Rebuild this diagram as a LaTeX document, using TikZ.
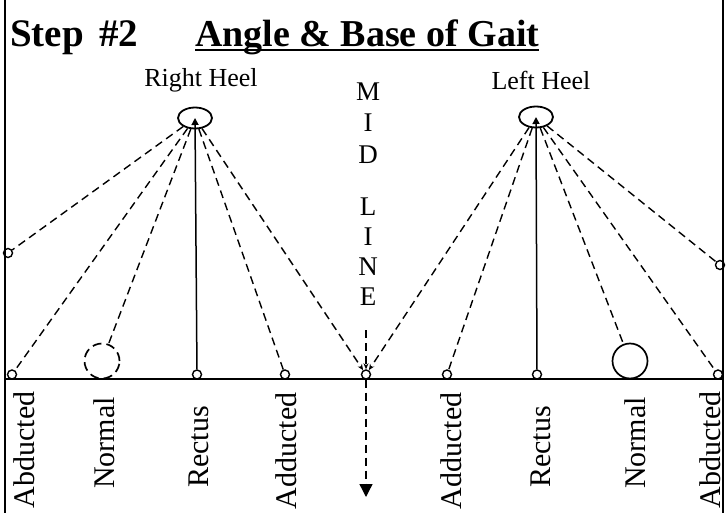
\documentclass[tikz,border=0pt]{standalone}
\usepackage{fontspec}
\setmainfont{Liberation Serif}
\usetikzlibrary{shapes.geometric,arrows.meta}

\tikzset{
  ray/.style={line width=1.4,dash pattern=on 8pt off 5pt},
  foot/.style={circle,draw,line width=1.4,inner sep=0pt,minimum size=9pt},
  heel/.style={ellipse,draw,line width=1.8,inner sep=0pt,minimum width=34pt,minimum height=21pt},
  normalfoot/.style={circle,draw,line width=1.7,inner sep=0pt,minimum size=35pt},
  tag/.style={rotate=90,inner sep=0pt,font=\fontsize{30}{30}\selectfont},
  heeltag/.style={inner sep=0pt,font=\fontsize{26}{26}\selectfont},
  midtag/.style={inner sep=0pt,font=\fontsize{27}{27}\selectfont},
}

\begin{document}
\begin{tikzpicture}[x=1pt,y=-1pt]
\useasboundingbox (0,0) rectangle (728,513);

%Straight Lines (frame and base line)
\draw [line width=2] (5,0) -- (5,513);
\draw [line width=2] (723,0) -- (723,513);
\draw [line width=2] (5,379) -- (723,379);

% Text Node
\node [anchor=base west,inner sep=0pt,font=\bfseries\fontsize{39}{39}\selectfont] (step) at (10,47) {Step\hspace{0.15em} \#2};
% Text Node
\node [anchor=base west,inner sep=0pt,font=\bfseries\fontsize{38}{38}\selectfont] (title) at (195,47) {Angle \& Base of Gait};
\draw [line width=2.2] ([yshift=-3pt]title.base west) -- ([yshift=-3pt]title.base east);

% Text Node
\node [heeltag] (rhtag) at (201,80) {Right Heel};
% Text Node
\node [heeltag] (lhtag) at (541,80) {Left Heel};

% heels
\node [heel] (rh) at (195,118) {};
\node [heel] (lh) at (536,117) {};

% mid line letters
\foreach \l/\y in {M/92,I/123,D/155,L/207,I/237,N/267,E/297}
  \node [midtag] (mid\y) at (368,\y) {\l};

% feet
\node [foot] (rbord) at (8,253) {};
\node [foot] (rabd) at (12,374.5) {};
\node [normalfoot,dash pattern=on 9pt off 5pt] (rnorm) at (102,361) {};
\node [foot] (rrect) at (197,374.5) {};
\node [foot] (radd) at (285,374.5) {};
\node [foot] (mid) at (366,374.5) {};
\node [foot] (ladd) at (447,374.5) {};
\node [foot] (lrect) at (537,374.5) {};
\node [normalfoot] (lnorm) at (630,361) {};
\node [foot] (labd) at (718,374.5) {};
\node [foot] (lbord) at (720,265) {};

\coordinate (mtop) at (366,330);
\coordinate (mbot) at (366,497);

%Straight Lines (right heel)
\draw [ray] (rh) -- (rbord);
\draw [ray] (rh) -- (rabd);
\draw [ray] (rh) -- (rnorm);
\draw [line width=1.5,-{Triangle[length=7pt,width=7pt]}] (rrect) -- (rh.center);
\draw [ray] (rh) -- (radd);
\draw [ray,-{Stealth[length=6pt,width=5pt]}] (rh) -- (mid);

%Straight Lines (left heel)
\draw [ray,-{Stealth[length=6pt,width=5pt]}] (lh) -- (mid);
\draw [ray] (lh) -- (ladd);
\draw [line width=1.5,-{Triangle[length=7pt,width=7pt]}] (lrect) -- (lh.center);
\draw [ray] (lh) -- (lnorm);
\draw [ray] (lh) -- (labd);
\draw [ray] (lh) -- (lbord);

%Straight Lines (mid line)
\draw [ray,-{Stealth[length=6pt,width=5pt]}] (mtop) -- (mid);
\draw [ray,-{Triangle[length=13pt,width=13pt]}] (mid) -- (mbot);

% Text Node
\node [tag] (tabdr) at (24,450) {Abducted};
\node [tag] (tnormr) at (104,443) {Normal};
\node [tag] (trectr) at (199,447) {Rectus};
\node [tag] (taddr) at (286,451) {Adducted};
\node [tag] (taddl) at (451,451) {Adducted};
\node [tag] (trectl) at (541,447) {Rectus};
\node [tag] (tnorml) at (635,443) {Normal};
\node [tag] (tabdl) at (710,450) {Abducted};

\end{tikzpicture}
\end{document}
